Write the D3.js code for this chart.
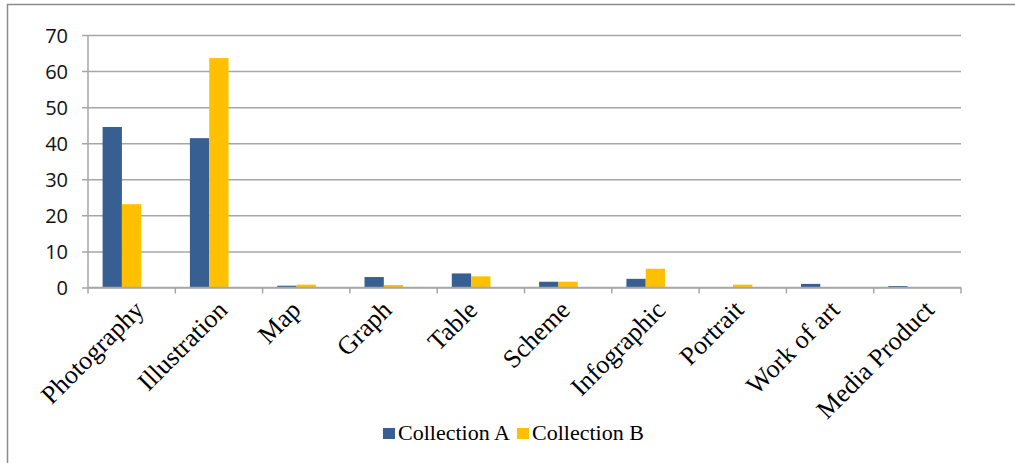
<!DOCTYPE html>
<html>
<head>
<meta charset="utf-8">
<script src="https://cdn.jsdelivr.net/npm/d3@7"></script>
<style>
  body { margin: 0; background: #fff; }
</style>
</head>
<body>
<div id="chart"></div>
<script>
const categories = ["Photography", "Illustration", "Map", "Graph", "Table", "Scheme",
  "Infographic", "Portrait", "Work of art", "Media Product"];
const seriesNames = ["Collection A", "Collection B"];
const collectionA = [44.5, 41.4, 0.5, 2.9, 3.9, 1.6, 2.4, 0, 1.0, 0.4];
const collectionB = [23.1, 63.6, 0.8, 0.7, 3.1, 1.6, 5.2, 0.8, 0, 0];
const yTicks = [0, 10, 20, 30, 40, 50, 60, 70];
const colors = ["#375f91", "#ffc000"];

const width = 1015, height = 463;
const margin = {top: 35, right: 54, bottom: 175.5, left: 88};

const data = categories.map((c, i) => ({cat: c, values: [collectionA[i], collectionB[i]]}));

const svg = d3.select("#chart").append("svg")
    .attr("width", width)
    .attr("height", height);

// outer frame
svg.append("rect")
    .attr("x", 7.5).attr("y", 4.5)
    .attr("width", width).attr("height", height)
    .attr("fill", "none")
    .attr("stroke", "#8c8c8c")
    .attr("stroke-width", 1.5);

const x0 = d3.scaleBand()
    .domain(categories)
    .range([margin.left, width - margin.right])
    .padding(0);

// bars sit a little left of the category centre, like the original
const x1 = d3.scaleBand()
    .domain(seriesNames)
    .range([0, x0.bandwidth()])
    .paddingInner(0)
    .paddingOuter(1.26)
    .align(0.3);

const y = d3.scaleLinear()
    .domain([0, 70])
    .range([height - margin.bottom, margin.top]);

// gridlines + y axis
const yAxis = d3.axisLeft(y)
    .tickValues(yTicks)
    .tickSize(-(width - margin.left - margin.right + 6))
    .tickPadding(14)
    .tickFormat(d3.format("d"));

svg.append("g")
    .attr("transform", `translate(${margin.left - 6},0)`)
    .call(yAxis)
    .call(g => g.select(".domain").remove())
    .call(g => g.selectAll(".tick line").attr("stroke", "#a6a6a6").attr("stroke-width", 1.5))
    .call(g => g.selectAll(".tick text")
        .attr("fill", "#111")
        .attr("dy", "0.36em")
        .style("font", "20px 'Open Sans', 'DejaVu Sans', sans-serif"));

// vertical axis line
svg.append("line")
    .attr("x1", margin.left).attr("x2", margin.left)
    .attr("y1", y(70)).attr("y2", y(0))
    .attr("stroke", "#a6a6a6").attr("stroke-width", 1.5);

// bars
svg.append("g")
  .selectAll("g")
  .data(data)
  .join("g")
    .attr("transform", d => `translate(${x0(d.cat)},0)`)
  .selectAll("rect")
  .data(d => d.values.map((v, i) => ({key: seriesNames[i], value: v, i})))
  .join("rect")
    .attr("x", d => x1(d.key))
    .attr("width", x1.bandwidth())
    .attr("y", d => y(d.value))
    .attr("height", d => y(0) - y(d.value))
    .attr("fill", d => colors[d.i]);

// x axis with ticks at category boundaries
const bounds = categories.map(c => x0(c)).concat([x0.range()[1]]);
const xg = svg.append("g");
xg.append("line")
    .attr("x1", margin.left).attr("x2", width - margin.right)
    .attr("y1", y(0)).attr("y2", y(0))
    .attr("stroke", "#a6a6a6").attr("stroke-width", 1.5);
xg.selectAll("line.tk")
  .data(bounds)
  .join("line")
    .attr("class", "tk")
    .attr("x1", d => d).attr("x2", d => d)
    .attr("y1", y(0)).attr("y2", y(0) + 6)
    .attr("stroke", "#a6a6a6").attr("stroke-width", 1.5);

// rotated labels: longer labels reach a bit further right (as in the original)
xg.selectAll("text")
  .data(categories)
  .join("text")
    .attr("text-anchor", "end")
    .attr("fill", "#000")
    .style("font", "26px 'Liberation Serif', 'Times New Roman', serif")
    .text(d => d)
    .attr("transform", function(d) {
      const len = this.getComputedTextLength();
      const dx = -14 + 0.21 * len;
      return `translate(${x0(d) + x0.bandwidth() / 2 + dx},${y(0) + 24}) rotate(-45)`;
    });

// legend
const legend = svg.append("g").attr("transform", "translate(383,440)");
const lx = [0, 134];
seriesNames.forEach((s, i) => {
  const g = legend.append("g").attr("transform", `translate(${lx[i]},0)`);
  g.append("rect")
      .attr("x", 0).attr("y", -12)
      .attr("width", 12).attr("height", 11)
      .attr("fill", colors[i]);
  g.append("text")
      .attr("x", 15).attr("y", 0)
      .attr("fill", "#000")
      .style("font", "22px 'Liberation Serif', 'Times New Roman', serif")
      .text(s);
});
</script>
</body>
</html>
